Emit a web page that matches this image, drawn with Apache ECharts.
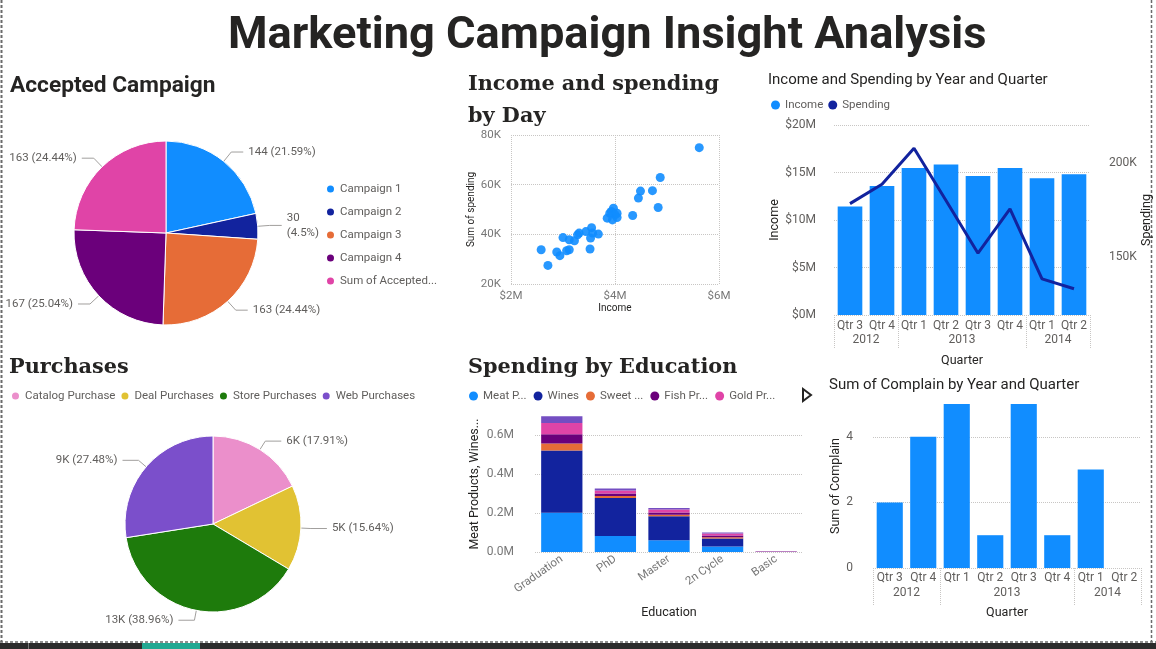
<!DOCTYPE html>
<html><head><meta charset="utf-8">
<script src="https://cdn.jsdelivr.net/npm/echarts@6/dist/echarts.min.js"></script>
<style>html,body{margin:0;padding:0;background:#fff}#c{width:1156px;height:649px}</style>
</head><body><div id="c"></div>
<script>
// ---- data ----
const campaignNames = ['Campaign 1','Campaign 2','Campaign 3','Campaign 4','Sum of AcceptedCmp5'];
const campaignValues = [144, 30, 163, 167, 163];

const purchaseNames = ['Catalog Purchase','Deal Purchases','Store Purchases','Web Purchases'];
const purchaseValues = [5963, 5208, 12970, 9150];

const dayIncomeM = [2.58,2.71,2.88,2.94,3.00,3.07,3.12,3.12,3.22,3.28,3.31,3.44,3.52,3.53,3.55,3.57,3.68,3.85,3.90,3.93,3.97,3.95,4.00,4.04,4.04,4.34,4.45,4.49,4.72,4.83,4.87,5.62];
const daySpendK = [33.8,27.5,32.9,31.4,38.7,33.4,33.8,37.8,37.4,39.8,40.5,41.1,34.1,38.5,42.7,40.5,40.1,46.5,48.5,49.2,50.5,45.8,47.9,46.8,48.5,47.6,54.6,57.4,57.6,50.8,62.9,74.9];

const educations = ['Graduation','PhD','Master','2n Cycle','Basic'];
const meatProducts = [202284, 81941, 60450, 28675, 618];
const wines = [320371, 196585, 123238, 40231, 391];
const sweetProducts = [35351, 9828, 7835, 6953, 654];
const fishProducts = [48630, 12990, 11877, 9639, 921];
const goldProds = [57307, 15703, 14947, 9419, 1233];
const fruits = [34683, 9744, 7704, 5878, 600];

const quarters = ['Qtr 3','Qtr 4','Qtr 1','Qtr 2','Qtr 3','Qtr 4','Qtr 1','Qtr 2'];
const quarterYears = ['2012','2012','2013','2013','2013','2013','2014','2014'];
const incomeM = [11.42, 13.59, 15.48, 15.83, 14.64, 15.48, 14.40, 14.82];
const spendingK = [178.4, 188.7, 207.8, 180.0, 152.1, 175.6, 138.5, 133.2];
const complains = [2, 4, 5, 1, 5, 1, 3, 0];

// ---- styles ----
const PBI = ['#118DFF','#12239E','#E66C37','#6B007B','#E044A7','#744EC2'];
const purchaseColors = ['#EB8FCB','#E1C233','#1E7B0C','#7B4FCB'];
const GRAY = '#605E5C', DARK = '#252423';
const SANS = 'Roboto, sans-serif', DIN = 'Roboto, sans-serif', SERIF = '"DejaVu Serif", serif';
const gridLine = {show:true, lineStyle:{type:'dotted', color:'#C8C6C4', width:1}};

const qKeys = quarters.map((q,i)=>quarterYears[i]+' '+q);

function yearAxis(gridIndex, tickLen, labelMargin, nameGap){
  const n = quarterYears.length;
  const bounds=[0], centers=[], names=[];
  let start=0;
  for(let i=1;i<=n;i++){
    if(i===n || quarterYears[i]!==quarterYears[i-1]){
      bounds.push(i); centers.push((start+i)/2); names.push(quarterYears[start]); start=i;
    }
  }
  return {type:'value', gridIndex, min:0, max:n, position:'bottom',
    axisLine:{show:false}, splitLine:{show:false},
    axisTick:{show:true, customValues:bounds, length:tickLen, lineStyle:{type:'dotted', color:'#C8C6C4'}},
    axisLabel:{customValues:centers, formatter:v=>names[centers.indexOf(v)], margin:labelMargin, color:GRAY, fontSize:12, fontFamily:SANS},
    name:'Quarter', nameLocation:'middle', nameGap:nameGap, nameTextStyle:{color:DARK, fontSize:12.5, fontFamily:DIN}};
}

function sharePct(v, arr){
  const tot = arr.reduce((a,b)=>a+b,0);
  return parseFloat((v/tot*100).toFixed(2)) + '%';
}

const total1 = campaignValues.reduce((a,b)=>a+b,0);
const pie1Data = campaignNames.map((n,i)=>({name:n, value:campaignValues[i], itemStyle:{color:PBI[i]}}));
const pie2Data = purchaseNames.map((n,i)=>({name:n, value:purchaseValues[i], itemStyle:{color:purchaseColors[i]}}));

const stackSeries = [
  ['Meat Products', meatProducts],['Wines', wines],['Sweet Products', sweetProducts],
  ['Fish Products', fishProducts],['Gold Prods', goldProds],['Fruits', fruits]
].map((s,i)=>({type:'bar', name:s[0], data:s[1], stack:'edu', xAxisIndex:1, yAxisIndex:1,
  barCategoryGap:'23%', itemStyle:{color:PBI[i]}}));

const LEG = {color:GRAY, fontSize:11.5};

const option = {
  animation:false,
  textStyle:{fontFamily:SANS},
  title:[
    {text:'Marketing Campaign Insight Analysis', left:223, top:9, textStyle:{fontSize:45.2, fontWeight:'bold', color:DARK, fontFamily:DIN}},
    {text:'Accepted Campaign', left:5, top:70, textStyle:{fontSize:22.7, fontWeight:'bold', color:DARK, fontFamily:DIN}},
    {text:'Income and spending\nby Day', left:463, top:64, textStyle:{fontSize:20.8, fontWeight:'bold', color:DARK, fontFamily:SERIF, lineHeight:32}},
    {text:'Purchases', left:4, top:352, textStyle:{fontSize:20.8, fontWeight:'bold', color:DARK, fontFamily:SERIF}},
    {text:'Spending by Education', left:463, top:352, textStyle:{fontSize:20.8, fontWeight:'bold', color:DARK, fontFamily:SERIF}},
    {text:'Income and Spending by Year and Quarter', left:763, top:68, textStyle:{fontSize:15, fontWeight:'normal', color:DARK, fontFamily:DIN}},
    {text:'Sum of Complain by Year and Quarter', left:824, top:373, textStyle:{fontSize:15, fontWeight:'normal', color:DARK, fontFamily:DIN}}
  ],
  legend:[
    {data:campaignNames, orient:'vertical', left:320, top:178, itemGap:11, icon:'circle', itemWidth:9, itemHeight:9,
     textStyle:Object.assign({width:108, overflow:'truncate', ellipsis:'...'}, LEG)},
    {data:purchaseNames, left:5, top:385, itemGap:4, icon:'circle', itemWidth:9, itemHeight:9, textStyle:LEG},
    {data:['Meat Products','Wines','Sweet Products','Fish Products','Gold Prods'], left:464, top:385, itemGap:7, icon:'circle', itemWidth:9, itemHeight:9,
     textStyle:Object.assign({width:50, overflow:'truncate', ellipsis:'...'}, LEG)},
    {data:['Income','Spending'], left:766, top:94, itemGap:5, icon:'circle', itemWidth:9, itemHeight:9, textStyle:LEG}
  ],
  grid:[
    {left:511, top:135, width:208, height:149},
    {left:535, top:416, width:268, height:136},
    {left:834, top:125, width:256, height:190},
    {left:873, top:404, width:268, height:164}
  ],
  xAxis:[
    {type:'value', gridIndex:0, min:2, max:6, interval:2, axisLine:{show:false}, axisTick:{show:false},
     splitLine:gridLine, axisLabel:{formatter:v=>'$'+v+'M', color:'#777', fontSize:11.5, margin:6},
     name:'Income', nameLocation:'middle', nameGap:19, nameTextStyle:{color:DARK, fontSize:10}},
    {type:'category', gridIndex:1, data:educations, axisLine:{show:false}, axisTick:{show:false},
     axisLabel:{rotate:35, color:'#777', fontSize:11.5, margin:6},
     name:'Education', nameLocation:'middle', nameGap:54, nameTextStyle:{color:DARK, fontSize:12.5, fontFamily:DIN}},
    {type:'category', gridIndex:2, data:qKeys, axisLine:{show:false}, axisTick:{show:false},
     axisLabel:{formatter:(v,i)=>quarters[i], color:GRAY, fontSize:12, margin:5, interval:0}},
    yearAxis(2, 33, 19, 39),
    {type:'category', gridIndex:3, data:qKeys, axisLine:{show:false}, axisTick:{show:false},
     axisLabel:{formatter:(v,i)=>quarters[i], color:GRAY, fontSize:12, margin:4, interval:0}},
    yearAxis(3, 37, 19, 38)
  ],
  yAxis:[
    {type:'value', gridIndex:0, min:20, max:80, interval:20, axisLine:{show:false}, axisTick:{show:false},
     splitLine:gridLine, axisLabel:{formatter:v=>v+'K', color:'#777', fontSize:11.5, margin:10},
     name:'Sum of spending', nameLocation:'middle', nameRotate:90, nameGap:35, nameTextStyle:{color:DARK, fontSize:10}},
    {type:'value', gridIndex:1, min:0, max:700000, interval:200000, axisLine:{show:false}, axisTick:{show:false},
     splitLine:Object.assign({showMaxLine:false}, gridLine),
     axisLabel:{formatter:v=>(v/1e6).toFixed(1)+'M', color:'#777', fontSize:12, margin:21, showMaxLabel:false},
     name:'Meat Products, Wines...', nameLocation:'middle', nameRotate:90, nameGap:54, nameTextStyle:{color:DARK, fontSize:12.5, fontFamily:DIN}},
    {type:'value', gridIndex:2, min:0, max:20, interval:5, axisLine:{show:false}, axisTick:{show:false},
     splitLine:gridLine, axisLabel:{formatter:v=>'$'+v+'M', color:GRAY, fontSize:12, margin:18},
     name:'Income', nameLocation:'middle', nameRotate:90, nameGap:50, nameTextStyle:{color:DARK, fontSize:12.5, fontFamily:DIN}},
    {type:'value', gridIndex:2, min:119.3, max:220.1, position:'right', axisLine:{show:false}, axisTick:{show:false},
     splitLine:{show:false}, axisLabel:{customValues:[150,200], formatter:v=>v+'K', color:GRAY, fontSize:12, margin:19},
     name:'Spending', nameLocation:'middle', nameRotate:90, nameGap:50, nameTextStyle:{color:DARK, fontSize:12.5, fontFamily:DIN}},
    {type:'value', gridIndex:3, min:0, max:5, interval:2, axisLine:{show:false}, axisTick:{show:false},
     splitLine:Object.assign({showMaxLine:false}, gridLine),
     axisLabel:{color:GRAY, fontSize:12, margin:20, showMaxLabel:false},
     name:'Sum of Complain', nameLocation:'middle', nameRotate:90, nameGap:30, nameTextStyle:{color:DARK, fontSize:12.5, fontFamily:DIN}}
  ],
  series:[
    {type:'pie', center:[166,233], radius:92, startAngle:90, data:pie1Data, bleedMargin:2,
     itemStyle:{borderColor:'#fff', borderWidth:1},
     label:{color:GRAY, fontSize:11.5, lineHeight:15, width:90,
       formatter:p=> p.value/total1 < 0.1 ? p.value+'\n('+sharePct(p.value, campaignValues)+')' : p.value+' ('+sharePct(p.value, campaignValues)+')'},
     labelLine:{length:12, length2:12, lineStyle:{color:'#A19F9D', width:1}}},
    {type:'pie', center:[213,524], radius:88, startAngle:90, data:pie2Data, bleedMargin:2,
     itemStyle:{borderColor:'#fff', borderWidth:1},
     label:{color:GRAY, fontSize:11.5, width:90, formatter:p=>Math.round(p.value/1000)+'K ('+sharePct(p.value, purchaseValues)+')'},
     labelLine:{length:10, length2:16, lineStyle:{color:'#A19F9D', width:1}}},
    {type:'scatter', xAxisIndex:0, yAxisIndex:0, symbolSize:9,
     data:dayIncomeM.map((x,i)=>[x, daySpendK[i]]), itemStyle:{color:'#118DFF', opacity:0.9}}
  ].concat(stackSeries).concat([
    {type:'bar', name:'Income', xAxisIndex:2, yAxisIndex:2, data:incomeM, barCategoryGap:'23%', itemStyle:{color:'#118DFF'}},
    {type:'line', name:'Spending', xAxisIndex:2, yAxisIndex:3, data:spendingK, symbol:'none', lineStyle:{color:'#12239E', width:3}, itemStyle:{color:'#12239E'}},
    {type:'bar', name:'Complain', xAxisIndex:4, yAxisIndex:4, data:complains, barCategoryGap:'22%', itemStyle:{color:'#118DFF'}}
  ]),
  graphic:[
    {type:'line', shape:{x1:1.5, y1:0, x2:1.5, y2:642}, style:{stroke:'#6b6b6b', lineWidth:2, lineDash:[3,2]}},
    {type:'line', shape:{x1:1151.5, y1:0, x2:1151.5, y2:642}, style:{stroke:'#6b6b6b', lineWidth:1.5, lineDash:[3,2]}},
    {type:'line', shape:{x1:0, y1:642, x2:1156, y2:642}, style:{stroke:'#6b6b6b', lineWidth:1.5, lineDash:[3,2]}},
    {type:'rect', shape:{x:0, y:643, width:1156, height:6}, style:{fill:'#2b2b2b'}},
    {type:'rect', shape:{x:142, y:643, width:58, height:6}, style:{fill:'#22A892'}},
    {type:'line', shape:{x1:28.5, y1:643, x2:28.5, y2:649}, style:{stroke:'#777', lineWidth:1}},
    {type:'polygon', shape:{points:[[803,389],[803,401],[811,395]]}, style:{fill:'#fff', stroke:DARK, lineWidth:2}}
  ]
};

const chart = echarts.init(document.getElementById('c'), null, {renderer:'canvas'});
chart.setOption(option);
</script>
</body></html>
